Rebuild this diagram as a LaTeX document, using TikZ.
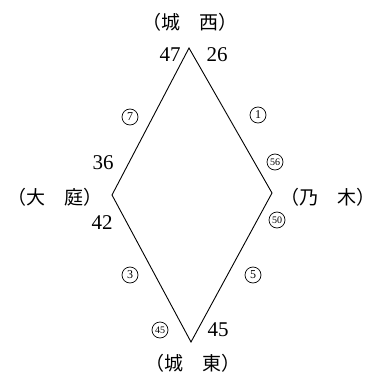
\documentclass[tikz,border=0pt]{standalone}
\usepackage{fontspec}
\setmainfont{Liberation Serif}
\newfontfamily\jp{Noto Sans CJK JP}
\begin{document}
\begin{tikzpicture}[x=1pt,y=-1pt,
  num/.style={font=\fontsize{21}{21}\selectfont, inner sep=0pt},
  jplabel/.style={font=\jp\fontsize{19}{19}\selectfont, inner sep=0pt},
  circnum/.style={circle, draw, line width=0.7pt, minimum size=16pt, inner sep=0pt, font=\fontsize{12}{12}\selectfont},
  circnumw/.style={circnum, font=\fontsize{10}{10}\selectfont}]
\useasboundingbox (0,0) rectangle (377,377);
\coordinate (T) at (189,48);
\coordinate (L) at (112,195);
\coordinate (R) at (272,193);
\coordinate (B) at (191,342);
\draw[line width=0.9pt] (T) -- (R) -- (B) -- (L) -- cycle;
% station names
\node[jplabel] (west) at (190,22) {（城　西）};
\node[jplabel] (oniwa) at (55,197) {（大　庭）};
\node[jplabel] (nogi) at (328,197) {（乃　木）};
\node[jplabel] (east) at (193,363) {（城　東）};
% numbers
\node[num] (n47) at (170,55) {47};
\node[num] (n26) at (217,55) {26};
\node[num] (n36) at (103,163) {36};
\node[num] (n42) at (102,223) {42};
\node[num] (n45) at (218,330) {45};
% circled numbers
\node[circnum] (c7) at (130,117) {7};
\node[circnum] (c1) at (258,115) {1};
\node[circnumw] (c56) at (275,162) {56};
\node[circnumw] (c50) at (277,220) {50};
\node[circnum] (c3) at (130,275) {3};
\node[circnum] (c5) at (253,275) {5};
\node[circnumw] (c45) at (160,330) {45};
\end{tikzpicture}
\end{document}
